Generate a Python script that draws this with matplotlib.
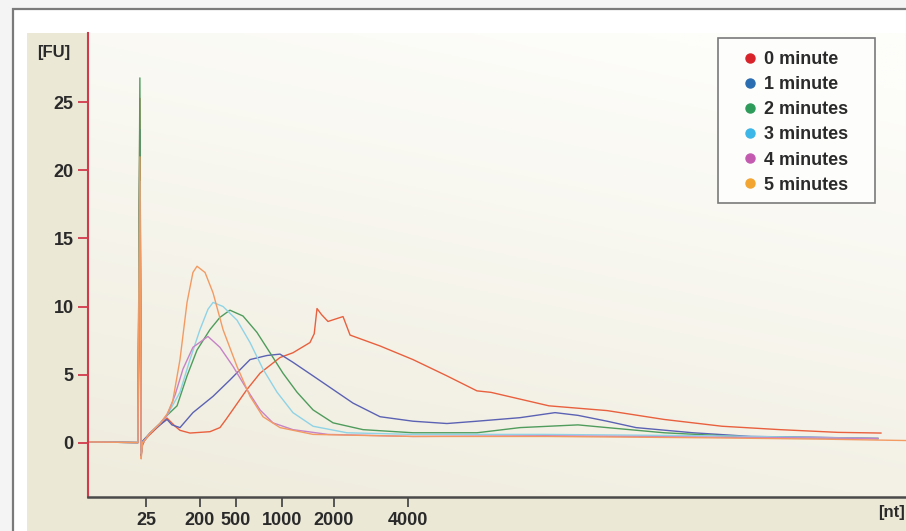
import numpy as np
import matplotlib.pyplot as plt
from matplotlib.lines import Line2D
from matplotlib.patches import Rectangle

# migration time (s) of the size-ladder peaks and their labels
tick_pos = [20.57, 23.87, 26.07, 28.88, 32.06, 36.58]
tick_labels = ["25", "200", "500", "1000", "2000", "4000"]

series_names = ["0 minute", "1 minute", "2 minutes", "3 minutes", "4 minutes", "5 minutes"]

# electropherogram traces: time (s) and fluorescence [FU]
t_0min = [17.0, 20.08, 20.2, 20.28, 20.36, 20.51, 20.82, 21.43, 21.86, 22.35, 22.65, 23.26, 23.87,
          24.48, 25.09, 25.46, 26.74, 27.54, 28.76, 29.55, 30.59, 30.85, 31.02, 31.3, 31.69, 32.2,
          32.61, 33.04, 34.87, 36.88, 38.96, 40.79, 41.65, 45.19, 48.74, 52.22, 55.76, 59.3, 62.84, 65.47]
fu_0min = [0.05, 0.0, 25.3, -0.9, -0.2, 0.2, 0.6, 1.3, 1.8, 1.2, 0.9, 0.7, 0.75,
           0.8, 1.1, 1.7, 3.9, 5.1, 6.25, 6.6, 7.35, 8.0, 9.85, 9.4, 8.9, 9.1,
           9.26, 7.9, 7.1, 6.1, 4.9, 3.8, 3.69, 2.7, 2.35, 1.7, 1.2, 0.95, 0.75, 0.7]

t_1min = [17.0, 20.08, 20.2, 20.28, 20.36, 20.51, 20.82, 21.43, 21.86, 22.16, 22.65, 23.44, 24.67,
          25.7, 26.93, 27.97, 28.76, 29.55, 30.78, 32.0, 33.22, 34.87, 36.88, 38.96, 40.79, 43.42,
          45.56, 46.96, 48.74, 50.51, 53.99, 57.53, 61.07, 65.28]
fu_1min = [0.05, 0.0, 23.0, -1.0, 0.1, 0.3, 0.7, 1.3, 1.7, 1.3, 1.1, 2.2, 3.4,
           4.6, 6.1, 6.4, 6.5, 5.9, 4.9, 3.9, 2.9, 1.9, 1.57, 1.4, 1.57, 1.83,
           2.2, 2.0, 1.57, 1.1, 0.72, 0.45, 0.4, 0.3]

t_2min = [17.0, 20.08, 20.2, 20.28, 20.36, 20.51, 20.82, 21.43, 21.86, 22.47, 23.08, 23.69, 24.48,
          25.09, 25.7, 26.5, 27.35, 28.15, 28.94, 29.8, 30.78, 32.0, 33.83, 36.88, 40.79, 43.42,
          46.96, 48.74, 52.22, 57.53, 65.28]
fu_2min = [0.05, 0.0, 26.8, -0.8, 0.0, 0.2, 0.7, 1.4, 2.0, 2.7, 4.9, 6.8, 8.3,
           9.2, 9.73, 9.3, 8.1, 6.6, 5.1, 3.7, 2.4, 1.45, 0.95, 0.72, 0.72, 1.1,
           1.3, 1.1, 0.72, 0.4, 0.3]

t_3min = [17.0, 20.08, 20.2, 20.28, 20.36, 20.51, 20.82, 21.43, 21.86, 22.65, 23.26, 23.87, 24.36,
          24.67, 25.28, 26.13, 26.93, 27.72, 28.58, 29.55, 30.78, 32.85, 36.88, 45.0, 55.0, 65.28]
fu_3min = [0.05, 0.0, 19.2, -0.8, 0.0, 0.2, 0.7, 1.4, 2.0, 3.7, 6.1, 8.3, 9.8,
           10.3, 10.0, 9.0, 7.35, 5.4, 3.7, 2.2, 1.2, 0.72, 0.6, 0.6, 0.5, 0.3]

t_4min = [17.0, 20.08, 20.2, 20.28, 20.36, 20.51, 20.82, 21.43, 21.86, 22.35, 22.83, 23.44, 24.36,
          25.09, 25.89, 26.74, 27.54, 28.33, 29.55, 31.69, 36.88, 45.0, 55.0, 65.28]
fu_4min = [0.05, 0.0, 11.8, -0.8, 0.0, 0.2, 0.7, 1.4, 2.0, 3.5, 5.4, 7.0, 7.8,
           7.0, 5.6, 3.9, 2.4, 1.45, 0.95, 0.6, 0.45, 0.5, 0.4, 0.3]

t_5min = [17.0, 20.08, 20.2, 20.28, 20.36, 20.51, 20.82, 21.43, 21.86, 22.2, 22.65, 23.08, 23.44,
          23.69, 24.18, 24.67, 25.28, 26.13, 26.93, 27.72, 28.76, 30.78, 36.88, 45.0, 55.0, 62.0, 67.0]
fu_5min = [0.05, 0.0, 21.0, -1.2, 0.0, 0.2, 0.7, 1.4, 2.1, 3.0, 6.1, 10.3, 12.5,
           12.96, 12.5, 11.0, 8.3, 5.6, 3.4, 1.9, 1.1, 0.6, 0.45, 0.45, 0.35, 0.25, 0.15]

traces = [(t_0min, fu_0min), (t_1min, fu_1min), (t_2min, fu_2min),
          (t_3min, fu_3min), (t_4min, fu_4min), (t_5min, fu_5min)]
line_colors = ["#e8603e", "#5b62b3", "#4f9c5c", "#8fd3e6", "#c683c6", "#f39a62"]
dot_colors = ["#d8232a", "#2a6db0", "#2e9b5b", "#3bb6e6", "#c45ab0", "#f2a531"]

font = ["Liberation Sans", "DejaVu Sans"]
W, H = 906, 531

fig = plt.figure(figsize=(W / 100, H / 100), dpi=100)
fig.patch.set_facecolor("#f4f4f4")

# page frame and beige panel behind the plot
fig.patches.append(Rectangle((13 / W, -0.1), 1.2, 1 - 9 / H + 0.1, transform=fig.transFigure,
                             facecolor="white", edgecolor="#7a7a7a", lw=1.6, zorder=-2))
fig.patches.append(Rectangle((27 / W, -0.1), 1.2, 1 - 33 / H + 0.1, transform=fig.transFigure,
                             facecolor="#ebe8d6", edgecolor="none", zorder=-1))

ax = fig.add_axes([87.5 / W, 1 - 497 / H, 1 - 87.5 / W, (497 - 33) / H])

# soft gradient: beige at the bottom-left, near white at the top-right
yy, xx = np.mgrid[0:1:200j, 0:1:200j]
k = np.clip(0.8 * yy + 0.3 * xx, 0, 1)[..., None]
beige = np.array([239, 236, 221]) / 255
white = np.array([253, 253, 250]) / 255
ax.imshow(beige + k * (white - beige), extent=(0, 1, 0, 1), origin="lower",
          transform=ax.transAxes, aspect="auto", zorder=0)

for (t, fu), c in zip(traces, line_colors):
    ax.plot(t, fu, color=c, lw=1.0, zorder=2)

ax.set_xlim(17, 67)
ax.set_ylim(-4, 30.1)
ax.set_xticks(tick_pos)
ax.set_xticklabels(tick_labels)
ax.set_yticks([0, 5, 10, 15, 20, 25])

for s in ["top", "right"]:
    ax.spines[s].set_visible(False)
ax.spines["left"].set_color("#d23a4c")
ax.spines["left"].set_linewidth(1.5)
ax.spines["bottom"].set_color("#4a4a4a")
ax.spines["bottom"].set_linewidth(1.8)
ax.tick_params(axis="y", colors="#d23a4c", length=7, width=1.3, pad=3, labelcolor="#2a2a2a")
ax.tick_params(axis="x", colors="#4a4a4a", length=7, width=1.3, pad=4, labelcolor="#2a2a2a")
for lab in ax.get_xticklabels() + ax.get_yticklabels():
    lab.set_family(font)
    lab.set_fontweight("bold")
    lab.set_fontsize(13)

fig.text(54 / W, 1 - 53 / H, "[FU]", family=font, fontweight="bold", fontsize=12,
         color="#2a2a2a", ha="center", va="center")
fig.text(905 / W, 1 - 512 / H, "[nt]", family=font, fontweight="bold", fontsize=12,
         color="#2a2a2a", ha="right", va="center")

# legend with a fixed frame
fig.patches.append(Rectangle((718 / W, 1 - 203 / H), 157 / W, 165 / H, transform=fig.transFigure,
                             facecolor="#fdfdfb", edgecolor="#7a7a7a", lw=1.2, zorder=3))
handles = [Line2D([], [], ls="none", marker="o", markersize=6.5, color=c) for c in dot_colors]
leg = fig.legend(handles, series_names, loc="upper left", bbox_to_anchor=(732 / W, 1 - 42 / H),
                 frameon=False, borderpad=0, handlelength=1.0, handletextpad=0.25,
                 labelspacing=0.45, prop={"family": font, "weight": "bold", "size": 13})
leg.set_zorder(4)
for txt in leg.get_texts():
    txt.set_color("#2a2a2a")

fig.savefig("out.png", dpi=100)
